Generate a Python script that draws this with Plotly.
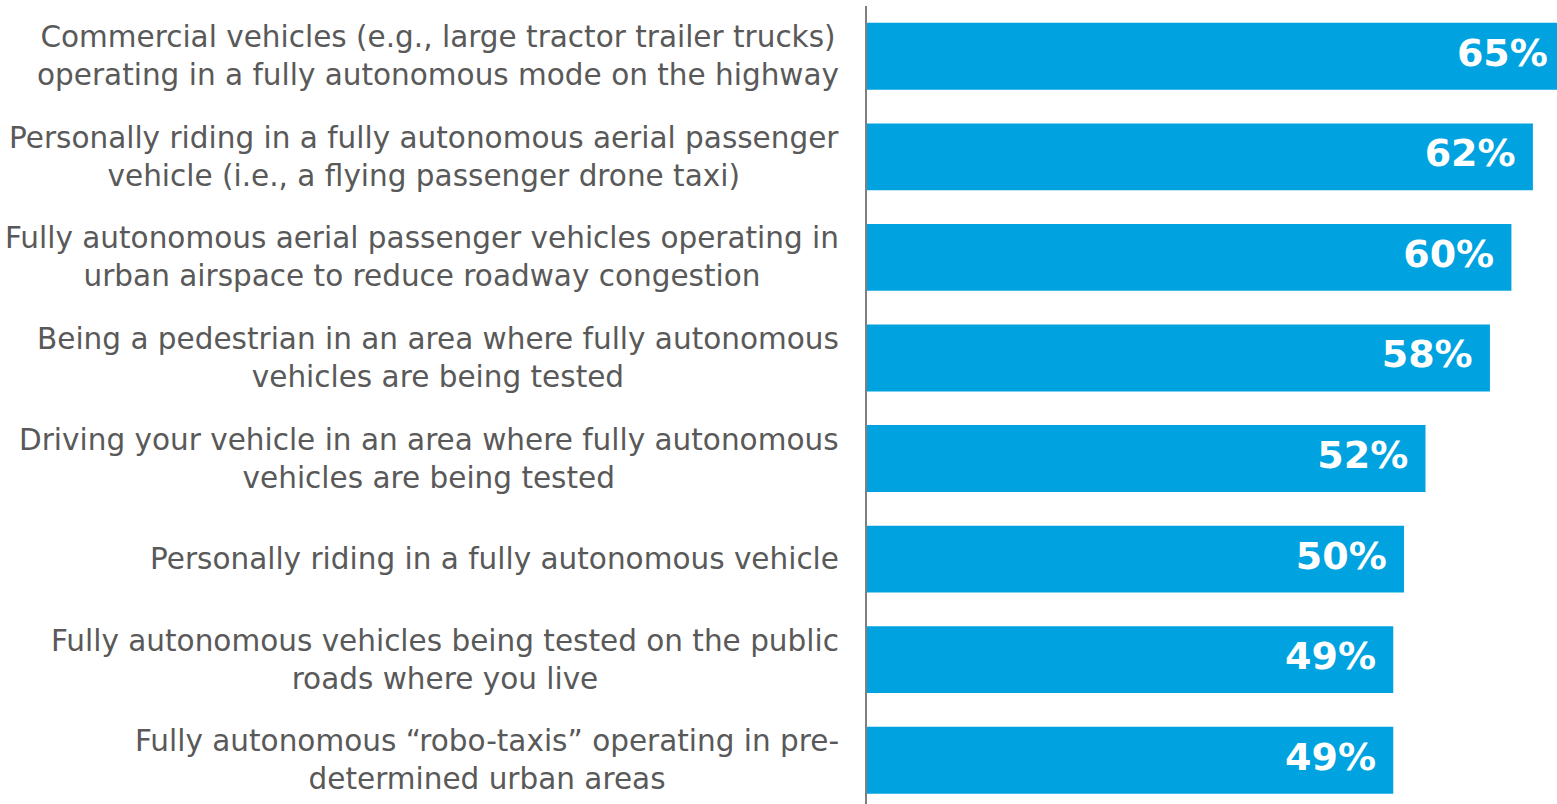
import plotly.graph_objects as go

categories = [
    "Commercial vehicles (e.g., large tractor trailer trucks)<br>operating in a fully autonomous mode on the highway",
    "Personally riding in a fully autonomous aerial passenger<br>vehicle (i.e., a flying passenger drone taxi)",
    "Fully autonomous aerial passenger vehicles operating in<br>urban airspace to reduce roadway congestion",
    "Being a pedestrian in an area where fully autonomous<br>vehicles are being tested",
    "Driving your vehicle in an area where fully autonomous<br>vehicles are being tested",
    "Personally riding in a fully autonomous vehicle",
    "Fully autonomous vehicles being tested on the public<br>roads where you live",
    "Fully autonomous \u201crobo-taxis\u201d operating in pre-<br>determined urban areas",
]
values = [65, 62, 60, 58, 52, 50, 49, 49]
value_labels = ["65%", "62%", "60%", "58%", "52%", "50%", "49%", "49%"]

BAR = "#00A3E0"
FONT = "DejaVu Sans"
ypos = list(range(len(categories)))

# The reference is cropped on the right: the longest bar runs past the
# window edge, so the figure is drawn a little wider than the window.
FIG_W = 1575
fig = go.Figure()
fig.add_trace(go.Bar(
    y=ypos,
    x=values,
    orientation="h",
    marker=dict(color=BAR, line=dict(width=0)),
    width=0.665,
    hoverinfo="skip",
))
# value labels, placed just inside the end of each bar
fig.add_trace(go.Scatter(
    y=ypos,
    x=values,
    mode="markers+text",
    marker=dict(size=26, opacity=0),
    text=value_labels,
    textposition="middle left",
    textfont=dict(family=FONT, size=38, color="white", weight="bold"),
    cliponaxis=False,
    hoverinfo="skip",
))

for i, c in enumerate(categories):
    fig.add_annotation(
        x=0, xref="paper", y=i, yref="y",
        text=c, showarrow=False,
        xanchor="right", yanchor="middle", align="center",
        xshift=-26,
        font=dict(family=FONT, size=29.5, color="#595959"),
    )

fig.update_layout(
    width=FIG_W, height=804,
    margin=dict(l=867, r=0, t=6, b=0),
    paper_bgcolor="white", plot_bgcolor="white",
    showlegend=False,
    xaxis=dict(range=[0, 65.92], visible=False, fixedrange=True),
    yaxis=dict(range=[7.435, -0.5], showticklabels=False, showgrid=False,
               zeroline=False, showline=True, linecolor="#7f7f7f", linewidth=2,
               ticks="", fixedrange=True),
    bargap=0.33,
)

fig.write_html(
    "out.html",
    config={"displayModeBar": False},
    post_script="document.body.style.margin='0';document.body.style.overflow='hidden';",
)
